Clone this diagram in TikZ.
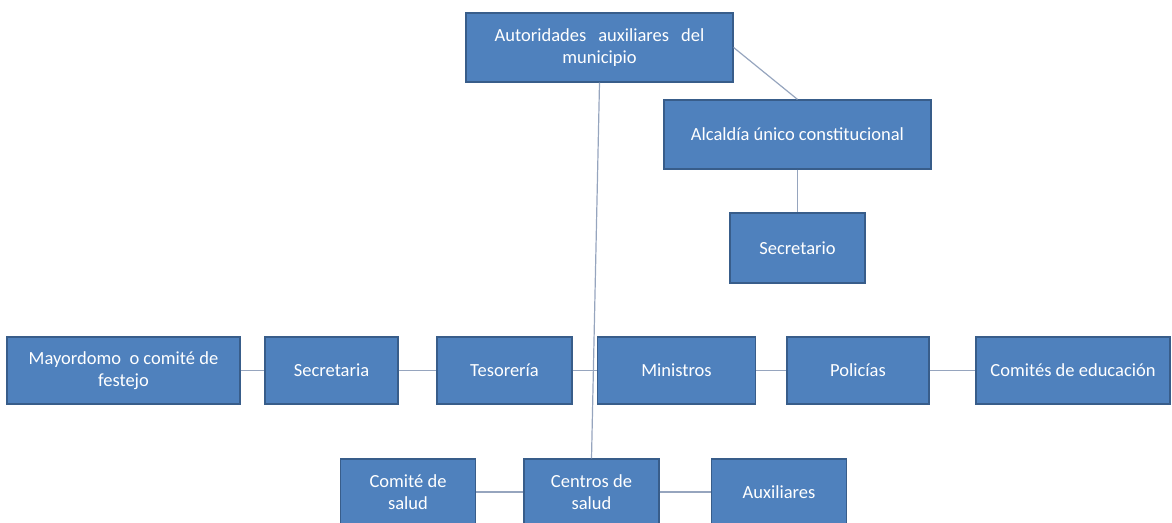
\documentclass[tikz,border=0pt]{standalone}
\usepackage{fontspec}
\setmainfont{Carlito}
\definecolor{boxFill}{RGB}{79,129,189}
\definecolor{boxLine}{RGB}{56,93,138}
\definecolor{linkLine}{RGB}{150,165,190}
\tikzstyle{orgBox}=[shape = rectangle, draw = boxLine, line width = 1.2pt, fill = boxFill, text = white, inner sep = 0pt, align = center, font = \fontsize{18.5}{21.5}\selectfont]
\tikzstyle{linkEdge}=[draw = linkLine, line width = 1.2pt]

\begin{document}
\begin{tikzpicture}[x = 1pt, y = -1pt]
\useasboundingbox (0,0) rectangle (1172,522);
\tikzstyle{wideBox}=[orgBox, minimum width = 267pt, minimum height = 69pt]
\tikzstyle{midBox}=[orgBox, minimum height = 67pt]
\tikzstyle{lowBox}=[orgBox, minimum width = 135pt, minimum height = 66pt]
% top part
\node[wideBox] (auto) at (599.5,47.5) {Autoridades\hspace{12pt}auxiliares\hspace{12pt}del\\municipio};
\node[wideBox] (alc) at (797.5,134.5) {Alcaldía único constitucional};
\node[orgBox, minimum width = 135pt, minimum height = 70pt] (secr) at (797.5,248) {Secretario};
% middle row
\node[midBox, minimum width = 233pt] (mayor) at (123.5,370.5) {Mayordomo~ o comité de\\festejo};
\node[midBox, minimum width = 133pt] (secta) at (331.5,370.5) {Secretaria};
\node[midBox, minimum width = 135pt] (teso) at (504.5,370.5) {Tesorería};
\node[midBox, minimum width = 158pt] (mini) at (676.5,370.5) {Ministros};
\node[midBox, minimum width = 142pt] (poli) at (858,370.5) {Policías};
\node[midBox, minimum width = 194pt] (comed) at (1073,370.5) {Comités de educación};
% bottom row
\node[lowBox] (csal) at (408,492) {Comité de\\salud};
\node[lowBox] (centros) at (591.5,492) {Centros de\\salud};
\node[lowBox] (aux) at (779,492) {Auxiliares};
% links
\draw[linkEdge] (auto.east) -- (alc.north);
\draw[linkEdge] (alc) -- (secr);
\draw[linkEdge] (auto.south) -- (centros.north);
\draw[linkEdge] (mayor) -- (secta);
\draw[linkEdge] (secta) -- (teso);
\draw[linkEdge] (teso) -- (mini);
\draw[linkEdge] (mini) -- (poli);
\draw[linkEdge] (poli) -- (comed);
\draw[linkEdge] (csal) -- (centros);
\draw[linkEdge] (centros) -- (aux);
\end{tikzpicture}
\end{document}
